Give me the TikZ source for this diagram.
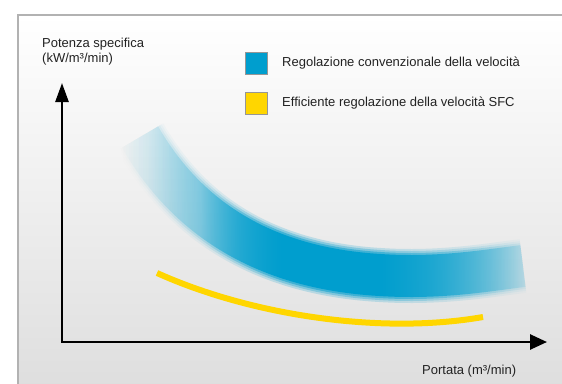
\documentclass[tikz,border=0pt]{standalone}
\usepackage{fontspec}
\setmainfont{Liberation Sans}
\usetikzlibrary{arrows.meta,positioning,fadings}
\definecolor{convblue}{RGB}{0,158,206}
\definecolor{sfcyellow}{RGB}{255,214,0}
\definecolor{framegray}{RGB}{178,178,178}
\definecolor{keygray}{RGB}{150,150,150}
\definecolor{labelgray}{RGB}{34,34,34}
\pgfdeclarehorizontalshading{bandmask}{100bp}{color(0bp)=(black); color(2bp)=(black); color(9bp)=(black!93); color(21bp)=(black!72); color(31bp)=(black!30); color(40bp)=(white); color(62bp)=(white); color(75bp)=(black!30); color(88bp)=(black!65); color(96bp)=(black!88); color(100bp)=(black)}
\pgfdeclarefading{bandfade}{\pgfuseshading{bandmask}}

\begin{document}
\begin{tikzpicture}[x=1pt, y=-1pt,
  lbl/.style={font=\fontsize{13pt}{15pt}\selectfont, inner sep=0pt, text=labelgray},
  keybox/.style={draw=keygray, line width=1pt, minimum size=22pt, inner sep=0pt},
  axis/.style={line width=2.6pt, {Triangle[length=19pt,width=13pt]}-{Triangle[length=17pt,width=15pt]}},
  band/.style={draw=convblue, path fading=bandfade, fit fading=false,
    fading transform={shift={(325,200)}, xscale=4.3, yscale=4}}]
\useasboundingbox (0,0) rectangle (562,383);
% Panel
\shade[top color=white, bottom color=black!13] (18,15) rectangle (570,390);
\draw[framegray, line width=1.5pt] (570,15) -- (18,15) -- (18,390);
% Axes
\coordinate (origin) at (62,342);
\coordinate (ytip) at (62,83);
\coordinate (xtip) at (547,342);
\draw[axis] (ytip) -- (origin) -- (xtip);
\node[lbl, anchor=north west, align=left] (ylabel) at (42,38) {Potenza specifica\\(kW/m³/min)};
\node[lbl, anchor=base west] (xlabel) at (422,374) {Portata (m³/min)};
% Conventional band (blurred edges)
\foreach \w/\op in {54/0.2, 50/0.3, 46/0.5, 42/1} {
  \draw[band, line width=\w pt, draw opacity=\op]
    (140,137) .. controls (185,215) and (260,268) .. (380,275)
    .. controls (440,279) and (490,270) .. (523,266);
}
% SFC curve
\draw[sfcyellow, line width=6pt] (157,273) .. controls (250,315) and (380,335) .. (483,317);
% Legend
\node[keybox, fill=convblue] (convkey) at (256.5,63.5) {};
\node[lbl, right=14pt of convkey] (convtext) {Regolazione convenzionale della velocità};
\node[keybox, fill=sfcyellow, below=17pt of convkey] (sfckey) {};
\node[lbl, right=14pt of sfckey] (sfctext) {Efficiente regolazione della velocità SFC};
\end{tikzpicture}
\end{document}
